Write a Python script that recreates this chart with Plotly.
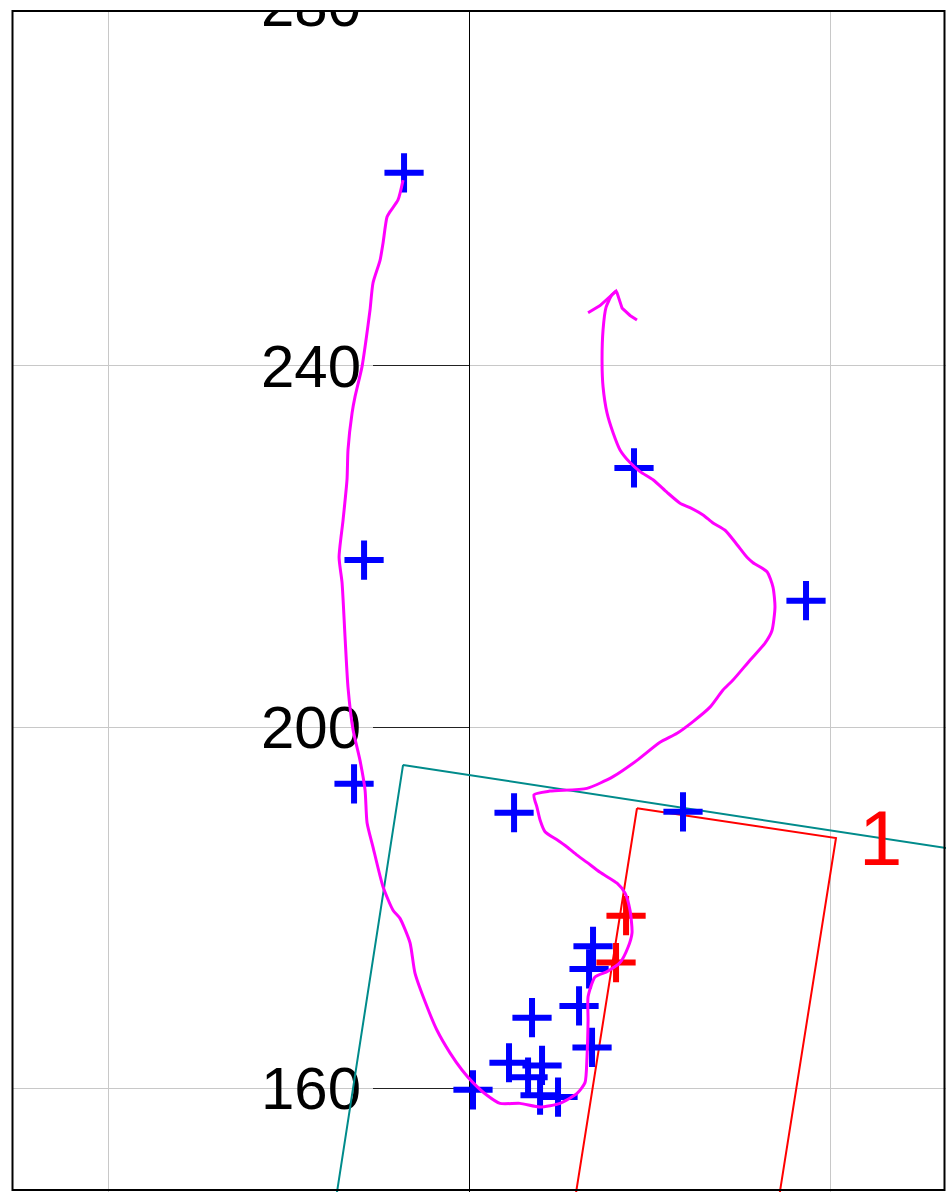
import plotly.graph_objects as go

# ---- data ----
track_x = [-7.31, -7.87, -8.75, -9.09, -9.53, -9.86, -10.64, -10.97, -11.41, -11.86,
           -12.63, -12.96, -13.41, -13.52, -13.96, -14.40, -14.07, -13.74, -13.41, -12.85,
           -12.08, -11.52, -11.30, -10.64, -9.53, -8.42, -7.65, -6.54, -5.98, -4.65,
           -3.55, -2.11, -0.78, 0.44, 1.99, 3.43, 5.65, 7.87, 10.08, 11.97,
           12.85, 13.07, 13.19, 13.19, 13.96, 15.29, 16.73, 17.62, 18.06, 17.84,
           17.29, 16.40, 14.52, 13.07, 11.97, 10.86, 9.75, 8.42, 7.87, 7.53,
           7.20, 8.97, 13.07, 15.96, 18.61, 21.16, 23.05, 24.82, 26.70, 28.14,
           29.25, 31.13, 32.80, 33.57, 33.90, 33.68, 33.02, 31.47, 30.80, 29.70,
           28.37, 27.04, 25.93, 24.49, 23.38, 21.94, 20.39, 18.95, 17.84, 16.73,
           15.96, 15.29, 14.85, 14.74, 14.85, 15.18, 15.85, 16.29]
track_y = [260.6, 258.4, 257.1, 256.5, 253.6, 251.7, 249.2, 246.2, 242.9, 239.9,
           236.6, 234.8, 230.7, 227.4, 222.9, 218.8, 216.0, 210.0, 204.4, 199.7,
           196.3, 193.0, 189.4, 186.7, 182.3, 179.7, 178.8, 176.1, 172.7, 169.0,
           166.4, 163.9, 162.0, 160.6, 159.2, 158.3, 158.3, 157.9, 158.3, 159.4,
           160.6, 163.4, 167.5, 170.1, 172.3, 172.9, 173.9, 175.6, 177.2, 179.7,
           181.6, 182.7, 183.9, 185.0, 185.8, 186.7, 187.5, 188.4, 189.7, 191.1,
           192.5, 192.9, 193.2, 194.5, 196.3, 198.3, 199.3, 200.6, 202.2, 204.1,
           205.2, 207.4, 209.3, 210.7, 213.3, 215.5, 217.2, 218.2, 218.8, 220.2,
           221.8, 222.6, 223.5, 224.3, 224.8, 226.0, 227.4, 228.3, 229.3, 230.7,
           232.6, 234.8, 237.7, 240.3, 244.0, 246.5, 247.9, 248.3]

arrow_x = [13.19, 14.52, 16.29, 16.40, 16.96, 17.84, 18.61]
arrow_y = [245.9, 246.7, 248.3, 248.1, 246.4, 245.6, 245.1]

blue_x = [-7.20, -11.63, -12.74, 4.99, 23.71, 18.28, 37.34, 13.74, 13.30, 12.19,
          6.98, 13.63, 4.43, 8.09, 6.54, 7.87, 9.86, 0.44]
blue_y = [261.4, 218.5, 193.7, 190.5, 190.6, 228.7, 214.0, 175.7, 173.2, 169.1,
          167.8, 164.5, 162.8, 162.5, 161.2, 159.2, 159.0, 159.8]

red_x = [17.40, 16.29]
red_y = [179.1, 173.9]

teal_box_x = [-7.31, 112.8, 101.8, -18.29, -7.31]
teal_box_y = [195.8, 177.4, 106.4, 124.8, 195.8]

red_box_x = [18.61, 40.66, 30.99, 8.94, 18.61]
red_box_y = [191.0, 187.7, 126.7, 130.0, 191.0]

label_text = "1"
label_x, label_y = 45.54, 187.7

y_ticks = [160, 200, 240, 280]
x_ticks = [-40, 0, 40]

W, H = 946, 1192
x_range = [-51.97, 52.85]
y_range = [148.48, 280.55]

fig = go.Figure()
fig.add_trace(go.Scatter(x=teal_box_x, y=teal_box_y, mode="lines",
                         line=dict(color="#008b8b", width=2), hoverinfo="skip"))
fig.add_trace(go.Scatter(x=red_box_x, y=red_box_y, mode="lines",
                         line=dict(color="#ff0000", width=2), hoverinfo="skip"))
fig.add_trace(go.Scatter(x=blue_x, y=blue_y, mode="markers",
                         marker=dict(symbol="cross-thin", size=28,
                                     line=dict(color="#0000ff", width=6))))
fig.add_trace(go.Scatter(x=red_x, y=red_y, mode="markers",
                         marker=dict(symbol="cross-thin", size=28,
                                     line=dict(color="#ff0000", width=6))))
fig.add_trace(go.Scatter(x=track_x, y=track_y, mode="lines",
                         line=dict(color="#ff00ff", width=3, shape="spline", smoothing=0.6),
                         hoverinfo="skip"))
fig.add_trace(go.Scatter(x=arrow_x, y=arrow_y, mode="lines",
                         line=dict(color="#ff00ff", width=3), hoverinfo="skip"))

fig.add_annotation(x=label_x, y=label_y, text=label_text, showarrow=False,
                   font=dict(family="Liberation Sans, Arial", size=78, color="#ff0000"))

fig.update_layout(
    width=W, height=H, margin=dict(l=0, r=0, t=0, b=0),
    paper_bgcolor="white", plot_bgcolor="white", showlegend=False,
    template="none",
    xaxis=dict(range=x_range, tickvals=x_ticks, showticklabels=False, ticks="",
               showgrid=True, gridcolor="#c8c8c8", gridwidth=1, zeroline=False,
               showline=False, automargin=False, layer="below traces"),
    yaxis=dict(range=y_range, tickvals=y_ticks, ticktext=[str(v) for v in y_ticks],
               anchor="free", position=469 / W, side="left",
               showgrid=True, gridcolor="#c8c8c8", gridwidth=1, zeroline=False,
               showline=True, linecolor="black", linewidth=1,
               ticks="outside", ticklen=96, tickwidth=1, tickcolor="#222",
               ticklabelstandoff=0, ticklabeloverflow="allow",
               tickfont=dict(family="Liberation Sans, Arial", size=60, color="black"),
               automargin=False, layer="below traces"),
)

# white mask outside the frame, then the frame
fig.add_shape(type="rect", xref="paper", yref="paper", x0=0, x1=1,
              y0=1 - 10.5 / H, y1=1.01, fillcolor="white", line=dict(width=0), layer="above")
fig.add_shape(type="rect", xref="paper", yref="paper", x0=-0.01, x1=12 / W,
              y0=-0.01, y1=1.01, fillcolor="white", line=dict(width=0), layer="above")
fig.add_shape(type="rect", xref="paper", yref="paper", x0=12.5 / W, x1=944.5 / W,
              y0=1 - 1190 / H, y1=1 - 11 / H, line=dict(color="black", width=2),
              fillcolor="rgba(0,0,0,0)", layer="above")

fig.write_html("out.html", config={"displayModeBar": False},
               post_script="document.body.style.margin='0';document.body.style.padding='0';")
